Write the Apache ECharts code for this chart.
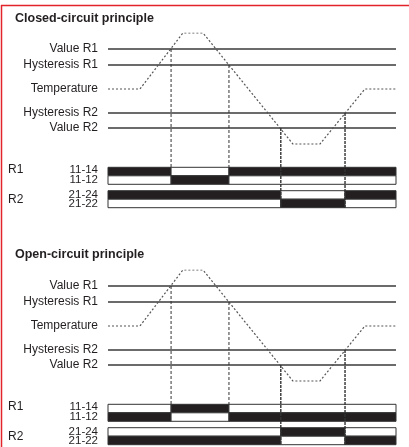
<!DOCTYPE html>
<html><head><meta charset="utf-8">
<script src="https://cdn.jsdelivr.net/npm/echarts@6/dist/echarts.min.js"></script>
<style>html,body{margin:0;padding:0;background:#fff}#c{width:409px;height:447px}</style>
</head><body><div id="c"></div><script>
// ---------- data ----------
const panelTitles = ['Closed-circuit principle', 'Open-circuit principle'];
const timeline = [0, 11.1, 26.0, 33.0, 64.2, 73.6, 89.2, 100];
const temperature = [55, 55, 111, 111, 0, 0, 55, 55];
const thresholdNames = ['Value R1', 'Hysteresis R1', 'Hysteresis R2', 'Value R2'];
const thresholdValues = [95, 79, 31, 16];
const temperatureLabel = 'Temperature';
const temperatureBase = 55;
const switchTimes = [21.9, 42.0, 60.0, 82.3];
const contactLabels = ['11-14', '11-12', '21-24', '21-22'];
const relayNames = ['R1', 'R2'];
const relayEdgesR1 = [0, 21.9, 42.0, 100];
const relayEdgesR2 = [0, 60.0, 82.3, 100];
const closedStates = [[1, 0, 1], [0, 1, 0], [1, 0, 1], [0, 1, 0]];
const openStates = [[0, 1, 0], [1, 0, 1], [0, 1, 0], [1, 0, 1]];

// ---------- layout ----------
const ROW_BANDS = [[-23.3, -31.8], [-31.8, -40.3], [-46.7, -55.2], [-55.2, -63.7]];
const ROW_LABEL_Y = [-26.3, -36.3, -51.3, -59.9];
const RELAY_LABEL_Y = [-26, -56];
const Y_MIN = -64, Y_MAX = 111;
const FONT12 = "12px 'Liberation Sans', Arial, sans-serif";
const FONT11 = "11.5px 'Liberation Sans', Arial, sans-serif";
const FONTB = "bold 12.5px 'Liberation Sans', Arial, sans-serif";
const INK = '#231f20';
const panelTops = [33, 270];
const titleY = [19, 255];

const chart = echarts.init(document.getElementById('c'), null, {renderer: 'canvas'});

const grids = [], xAxes = [], yAxes = [], series = [];

[closedStates, openStates].forEach((states, p) => {
  grids.push({left: 108, width: 288, top: panelTops[p], height: 175, containLabel: false, outerBoundsMode: 'none'});
  xAxes.push({gridIndex: p, type: 'value', min: 0, max: 100, show: false});
  yAxes.push({gridIndex: p, type: 'value', min: Y_MIN, max: Y_MAX, show: false});
  // threshold lines
  thresholdValues.forEach(v => {
    series.push({type: 'line', xAxisIndex: p, yAxisIndex: p, symbol: 'none', silent: true,
      data: [[0, v], [100, v]], lineStyle: {color: '#3a3a3a', width: 1.3}, z: 2});
  });
  // temperature
  series.push({type: 'line', xAxisIndex: p, yAxisIndex: p, symbol: 'none', silent: true,
    data: timeline.map((t, i) => [t, temperature[i]]),
    lineStyle: {color: '#555', width: 1.2, type: [2, 2]}, z: 3});
  // relay bars
  const barData = [];
  states.forEach((row, r) => {
    const edges = r < 2 ? relayEdgesR1 : relayEdgesR2;
    row.forEach((s, k) => barData.push([edges[k], edges[k + 1], r, s]));
  });
  series.push({type: 'custom', xAxisIndex: p, yAxisIndex: p, silent: true, z: 4,
    data: barData,
    renderItem: (params, api) => {
      const r = api.value(2);
      const a = api.coord([api.value(0), ROW_BANDS[r][0]]);
      const b = api.coord([api.value(1), ROW_BANDS[r][1]]);
      return {type: 'rect', shape: {x: a[0], y: a[1], width: b[0] - a[0], height: b[1] - a[1]},
        style: {fill: api.value(3) ? INK : '#fff', stroke: '#333', lineWidth: 1}};
    }});
  // switching verticals
  const fromLevels = [thresholdValues[0], thresholdValues[1], thresholdValues[3], thresholdValues[2]];
  switchTimes.forEach((t, i) => {
    const bottom = i < 2 ? ROW_BANDS[0][0] : ROW_BANDS[3][1];
    series.push({type: 'line', xAxisIndex: p, yAxisIndex: p, symbol: 'none', silent: true,
      data: [[t, fromLevels[i]], [t, bottom]],
      lineStyle: {color: '#333', width: i < 2 ? 1 : 1.4, type: i < 2 ? [3, 2] : [3, 1]}, z: 5});
  });
});

chart.setOption({
  animation: false,
  backgroundColor: '#fff',
  grid: grids, xAxis: xAxes, yAxis: yAxes, series: series
});

// ---------- text labels positioned through the axes ----------
const graphics = [
  {type: 'line', shape: {x1: 1, y1: 5.5, x2: 409, y2: 5.5}, style: {stroke: '#e3242b', lineWidth: 1.5}},
  {type: 'line', shape: {x1: 1.5, y1: 5, x2: 1.5, y2: 447}, style: {stroke: '#e3242b', lineWidth: 1.5}}
];
function txt(x, y, text, align, font) {
  graphics.push({type: 'text', x: x, y: y, silent: true,
    style: {text: text, font: font || FONT12, fill: INK, align: align, verticalAlign: 'middle'}});
}
[0, 1].forEach(p => {
  const px = v => chart.convertToPixel({xAxisIndex: p, yAxisIndex: p}, [0, v]);
  txt(15, titleY[p], panelTitles[p], 'left', FONTB);
  thresholdValues.forEach((v, i) => { const c = px(v); txt(c[0] - 10, c[1], thresholdNames[i], 'right'); });
  const tc = px(temperatureBase); txt(tc[0] - 10, tc[1], temperatureLabel, 'right');
  ROW_LABEL_Y.forEach((v, i) => { const c = px(v); txt(c[0] - 10, c[1], contactLabels[i], 'right', FONT11); });
  RELAY_LABEL_Y.forEach((v, i) => { const c = px(v); txt(8, c[1], relayNames[i], 'left'); });
});
chart.setOption({graphic: graphics});
</script></body></html>
